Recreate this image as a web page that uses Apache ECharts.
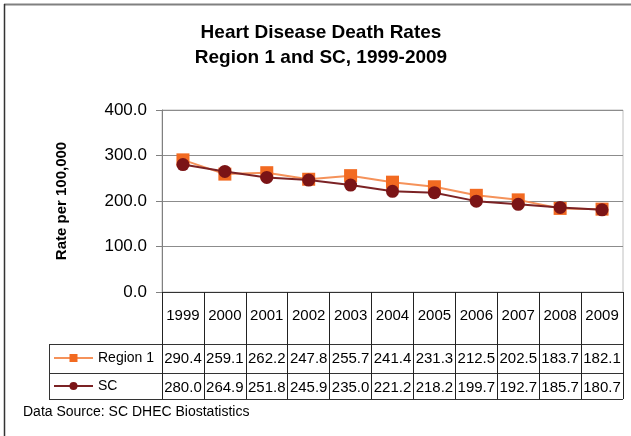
<!DOCTYPE html>
<html>
<head>
<meta charset="utf-8">
<title>Heart Disease Death Rates</title>
<script src="https://cdn.jsdelivr.net/npm/echarts@6/dist/echarts.min.js"></script>
<style>
  html, body { margin: 0; padding: 0; background: #fff; }
  #main { width: 631px; height: 436px; }
</style>
</head>
<body>
<div id="main"></div>
<script>
// data
var years = ['1999', '2000', '2001', '2002', '2003', '2004', '2005', '2006', '2007', '2008', '2009']
var region1 = [290.4, 259.1, 262.2, 247.8, 255.7, 241.4, 231.3, 212.5, 202.5, 183.7, 182.1]
var sc = [280.0, 264.9, 251.8, 245.9, 235.0, 221.2, 218.2, 199.7, 192.7, 185.7, 180.7]
var yTicks = [0, 100, 200, 300, 400]

var font = 'Liberation Sans, Arial, sans-serif'
var fmt = function (v) { return v.toFixed(1) }

// plot area and the data table under it
var gridLeft = 162, gridTop = 110, gridRight = 623, gridBottom = 292
var rowTop = 344, rowMid = 373, rowBottom = 399, tableLeft = 49

var myChart = echarts.init(document.getElementById('main'))

var option = {
  backgroundColor: '#fff',
  animation: false,
  title: {
    text: 'Heart Disease Death Rates\nRegion 1 and SC, 1999-2009',
    left: 316,
    top: 15,
    textAlign: 'center',
    textStyle: { fontFamily: font, fontSize: 19, fontWeight: 'bold', color: '#000', lineHeight: 25 }
  },
  legend: {
    orient: 'vertical',
    left: tableLeft + 4,
    top: rowTop + 5,
    itemWidth: 39,
    itemHeight: 10,
    itemGap: 10,
    padding: 0,
    textStyle: { fontFamily: font, fontSize: 14, color: '#000', lineHeight: 18 },
    data: ['Region 1', 'SC']
  },
  grid: {
    left: gridLeft,
    top: gridTop,
    width: gridRight - gridLeft,
    height: gridBottom - gridTop,
    show: true,
    borderColor: '#c0c0c0',
    borderWidth: 1
  },
  xAxis: [
    {
      type: 'category',
      position: 'bottom',
      data: years,
      boundaryGap: true,
      axisLine: { lineStyle: { color: '#333', width: 1 } },
      axisTick: { show: true, interval: 0, length: rowBottom - gridBottom, lineStyle: { color: '#222' } },
      axisLabel: { interval: 0, margin: 16, fontFamily: font, fontSize: 15, color: '#000' }
    },
    {
      type: 'category',
      position: 'bottom',
      data: region1.map(fmt),
      axisLine: { show: false },
      axisTick: { show: false },
      axisLabel: { interval: 0, margin: rowTop - gridBottom + 7, fontFamily: font, fontSize: 15, color: '#000' }
    },
    {
      type: 'category',
      position: 'bottom',
      data: sc.map(fmt),
      axisLine: { show: false },
      axisTick: { show: false },
      axisLabel: { interval: 0, margin: rowMid - gridBottom + 7, fontFamily: font, fontSize: 15, color: '#000' }
    }
  ],
  yAxis: {
    type: 'value',
    min: yTicks[0],
    max: yTicks[yTicks.length - 1],
    interval: 100,
    name: 'Rate per 100,000',
    nameLocation: 'middle',
    nameRotate: 90,
    nameGap: 93,
    nameTextStyle: { fontFamily: font, fontSize: 15, fontWeight: 'bold', color: '#000' },
    axisLine: { show: true, lineStyle: { color: '#808080' } },
    axisTick: { show: true, length: 6, lineStyle: { color: '#808080' } },
    axisLabel: { margin: 15, formatter: fmt, fontFamily: font, fontSize: 17, color: '#000' },
    splitLine: { lineStyle: { color: '#8c8c8c', width: 1 } }
  },
  series: [
    {
      name: 'Region 1',
      type: 'line',
      data: region1,
      symbol: 'rect',
      symbolSize: 13,
      itemStyle: { color: '#F26A21' },
      lineStyle: { color: '#F5925A', width: 2 },
      z: 2
    },
    {
      name: 'SC',
      type: 'line',
      data: sc,
      symbol: 'circle',
      symbolSize: 13,
      itemStyle: { color: '#7B1416' },
      lineStyle: { color: '#7B2224', width: 2 },
      z: 3
    }
  ],
  graphic: [
    // table rows and legend column
    { type: 'line', shape: { x1: tableLeft, y1: rowTop + 0.5, x2: gridRight, y2: rowTop + 0.5 }, style: { stroke: '#333', lineWidth: 1 } },
    { type: 'line', shape: { x1: tableLeft, y1: rowMid + 0.5, x2: gridRight, y2: rowMid + 0.5 }, style: { stroke: '#333', lineWidth: 1 } },
    { type: 'line', shape: { x1: tableLeft, y1: rowBottom + 0.5, x2: gridRight, y2: rowBottom + 0.5 }, style: { stroke: '#333', lineWidth: 1 } },
    { type: 'line', shape: { x1: tableLeft + 0.5, y1: rowTop, x2: tableLeft + 0.5, y2: rowBottom }, style: { stroke: '#333', lineWidth: 1 } },
    { type: 'line', shape: { x1: gridRight + 0.5, y1: gridBottom, x2: gridRight + 0.5, y2: rowBottom }, style: { stroke: '#555', lineWidth: 1 } },
    // outer frame
    { type: 'line', shape: { x1: 4, y1: 4.5, x2: 631, y2: 4.5 }, style: { stroke: '#808080', lineWidth: 2 } },
    { type: 'line', shape: { x1: 4.5, y1: 4, x2: 4.5, y2: 436 }, style: { stroke: '#333', lineWidth: 1.5 } },
    {
      type: 'text',
      left: 23,
      top: 405,
      style: { text: 'Data Source: SC DHEC Biostatistics', fontFamily: font, fontSize: 14, fill: '#000' }
    }
  ]
}

myChart.setOption(option)
myChart.resize()
</script>
</body>
</html>
